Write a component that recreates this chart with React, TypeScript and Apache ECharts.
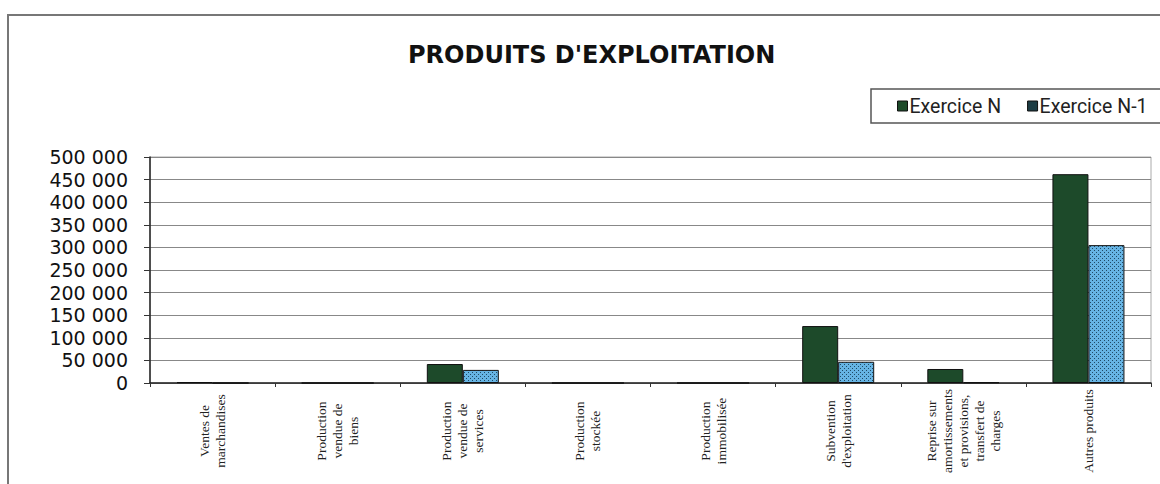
import React, { useEffect, useRef } from "react";
import * as echarts from "echarts";

const categories = [
  "Ventes de\nmarchandises",
  "Production\nvendue de\nbiens",
  "Production\nvendue de\nservices",
  "Production\nstockée",
  "Production\nimmobilisée",
  "Subvention\nd'exploitation",
  "Reprise sur\namortissements\net provisions,\ntransfert de\ncharges",
  "Autres produits",
];
const exerciceN = [2000, 0, 42000, 0, 0, 126000, 31000, 462000];
const exerciceN1 = [0, 0, 29000, 0, 0, 47000, 1500, 305000];
const seriesNames = ["Exercice N", "Exercice N-1"];
const yTicks = { min: 0, max: 500000, interval: 50000 };

function makePattern(): HTMLCanvasElement {
  const c = document.createElement("canvas");
  c.width = 4;
  c.height = 4;
  const ctx = c.getContext("2d")!;
  ctx.fillStyle = "#66b4e4";
  ctx.fillRect(0, 0, 4, 4);
  ctx.fillStyle = "#1f4a66";
  ctx.fillRect(0, 0, 1, 1);
  ctx.fillRect(2, 2, 1, 1);
  return c;
}

export default function App() {
  const ref = useRef<HTMLDivElement>(null);
  useEffect(() => {
    if (!ref.current) return;
    const chart = echarts.init(ref.current, undefined, { renderer: "svg" });
    const pattern = makePattern();
    chart.setOption({
      animation: false,
      backgroundColor: "#ffffff",
      title: {
        text: "PRODUITS D'EXPLOITATION",
        left: 403,
        top: 38,
        textStyle: {
          fontFamily: "DejaVu Sans",
          fontWeight: "bold",
          fontSize: 24,
          color: "#111",
        },
      },
      legend: {
        left: 897,
        top: 96,
        padding: 0,
        width: 280,
        icon: "rect",
        itemWidth: 10,
        itemHeight: 10,
        itemGap: 26,
        textStyle: { fontFamily: "Roboto", fontSize: 19.5, color: "#222", padding: [0, 0, 0, -3] },
        data: [
          { name: seriesNames[0], itemStyle: { color: "#1d4a2a", borderColor: "#111", borderWidth: 1 } },
          { name: seriesNames[1], itemStyle: { color: "#1c3c44", borderColor: "#111", borderWidth: 1 } },
        ],
      },
      grid: {
        left: 150,
        right: 9,
        top: 157,
        bottom: 101,
        show: true,
        borderColor: "#aaa",
        borderWidth: 1,
      },
      xAxis: {
        type: "category",
        data: categories,
        axisLine: { lineStyle: { color: "#222", width: 1.5 } },
        axisTick: { show: true, length: 4, lineStyle: { color: "#333" } },
        axisLabel: {
          rotate: 90,
          interval: 0,
          align: "center",
          verticalAlign: "middle",
          margin: 48,
          fontFamily: "Liberation Serif",
          fontSize: 13.5,
          lineHeight: 16,
          color: "#222",
        },
      },
      yAxis: {
        type: "value",
        min: yTicks.min,
        max: yTicks.max,
        interval: yTicks.interval,
        axisLine: { show: true, lineStyle: { color: "#222", width: 1.5 } },
        axisTick: { show: true, length: 6, lineStyle: { color: "#333" } },
        splitLine: { lineStyle: { color: "#888", width: 1.2 } },
        axisLabel: {
          margin: 22,
          fontFamily: "DejaVu Sans",
          fontSize: 19,
          color: "#111",
          formatter: (v: number) =>
            String(v).replace(/\B(?=(\d{3})+(?!\d))/g, " "),
        },
      },
      series: [
        {
          name: seriesNames[0],
          type: "bar",
          data: exerciceN,
          barWidth: 36,
          barGap: "0%",
          itemStyle: { color: "#1d4a2a", borderColor: "#111", borderWidth: 1 },
        },
        {
          name: seriesNames[1],
          type: "bar",
          data: exerciceN1,
          barWidth: 36,
          barGap: "0%",
          itemStyle: {
            color: { image: pattern, repeat: "repeat" },
            borderColor: "#111",
            borderWidth: 1,
          },
        },
      ],
      graphic: [
        {
          type: "rect",
          shape: { x: 8, y: 15, width: 1170, height: 500 },
          style: { fill: "none", stroke: "#777", lineWidth: 2 },
          silent: true,
          z: -1,
        },
        {
          type: "rect",
          shape: { x: 871, y: 89, width: 300, height: 34 },
          style: { fill: "none", stroke: "#555", lineWidth: 1.5 },
          silent: true,
          z: -1,
        },
      ],
    });
    return () => chart.dispose();
  }, []);
  return (
    <div
      ref={ref}
      style={{ position: "fixed", left: 0, top: 0, width: 1160, height: 484 }}
    />
  );
}
